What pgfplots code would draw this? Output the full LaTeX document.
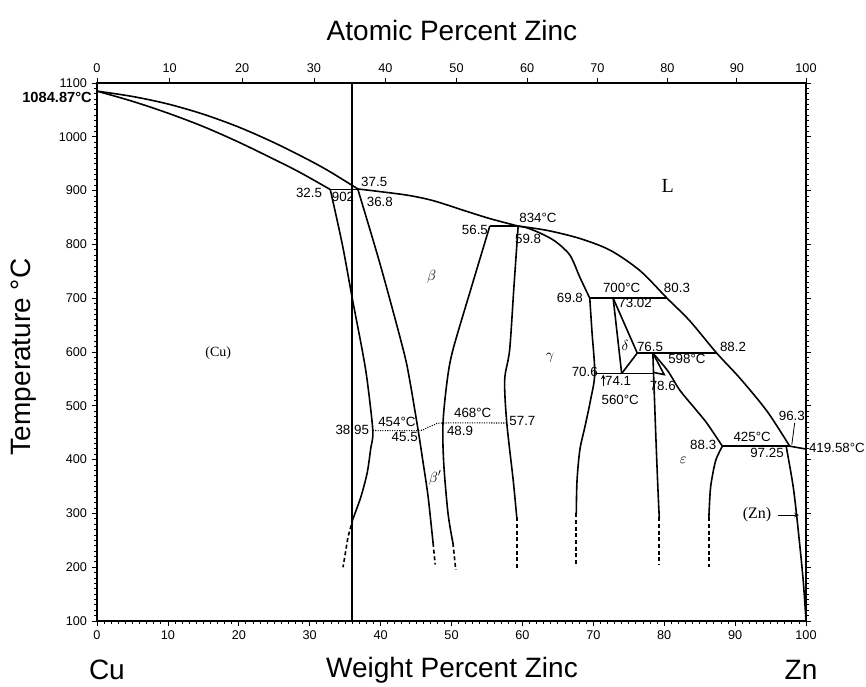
\documentclass[border=0pt]{standalone}
\usepackage{pgfplots}
\pgfplotsset{compat=1.18}
\usepackage{fontspec}
\setmainfont{Liberation Sans}
\newfontfamily\seriff{Liberation Serif}
\begin{document}
\begin{tikzpicture}
\useasboundingbox (-72.75pt,-48.75pt) rectangle (576.75pt,465.75pt);
\pgfplotsset{
  ph/.style={black, line width=1.2pt, no marks},
  phs/.style={black, line width=1.2pt, no marks, smooth},
  phd/.style={black, line width=1.2pt, no marks, dash pattern=on 3pt off 2pt},
}
\tikzset{
  lab/.style={font=\fontsize{10}{11}\selectfont, inner sep=0.5pt},
  big/.style={font=\fontsize{21}{24}\selectfont},
}
\begin{axis}[
  at={(0,0)}, anchor=south west,
  scale only axis, width=531.75pt, height=403.5pt,
  xmin=0, xmax=100, ymin=100, ymax=1100,
  xtick={0,10,...,100}, ytick={100,200,...,1100},
  minor x tick num=9, minor y tick num=9,
  xtick pos=bottom, ytick pos=both, yticklabel pos=left,
  tick align=outside, major tick length=4pt, minor tick length=2pt,
  tick label style={font=\fontsize{9.5}{10}\selectfont},
  /pgf/number format/assume math mode=true,
  /pgf/number format/1000 sep={},
  axis line style={line width=0.8pt},
  every tick/.style={black, line width=0.6pt},
  clip=false,
]
% liquidus
\addplot[phs] coordinates {(0,1084.87) (5,1075) (10,1061) (15,1042) (20,1018) (25,989) (30,956) (33,934) (36.8,903)};
\addplot[phs] coordinates {(36.8,903) (40,898) (44,891) (47.5,881) (52,862) (55.4,848) (59.4,834)};
\addplot[phs] coordinates {(59.4,834) (63.5,826) (68.1,811) (72.4,789) (76.6,751) (80.4,700) (83.6,658) (87.4,598) (90.7,551) (94.5,490) (97.7,425)};
\addplot[ph] coordinates {(97.7,425) (100,419.58)};
% Cu solidus
\addplot[phs] coordinates {(0,1084.87) (5,1066) (10,1044) (15,1019) (20,990) (25,958) (28.6,934) (32.9,902)};
% isotherms
\addplot[ph] coordinates {(32.9,902) (36.8,902)};
\addplot[ph] coordinates {(55.4,834) (59.4,834)};
\addplot[ph] coordinates {(69.5,700) (80.4,700)};
\addplot[ph] coordinates {(76.2,598) (87.4,598)};
\addplot[ph] coordinates {(70.2,560) (78.4,560)};
\addplot[ph] coordinates {(88.2,425) (97.7,425)};
% alpha solvus
\addplot[phs] coordinates {(32.9,902) (34.6,800) (36,700) (37.4,604) (38.1,548) (38.9,454) (38.6,420) (38.1,375) (37.2,330) (36.1,290)};
\addplot[phd] coordinates {(36.1,290) (35.4,256) (34.7,200)};
% beta left
\addplot[phs] coordinates {(36.8,902) (40,760) (43.2,604) (44.1,548) (45.3,454) (46.0,394) (46.7,331) (47.4,245)};
\addplot[phd] coordinates {(47.4,245) (47.7,205)};
% beta right
\addplot[phs] coordinates {(55.4,834) (52.8,720) (50.2,604) (49.4,548) (48.8,468) (48.9,394) (49.5,301) (50.2,245)};
\addplot[phd] coordinates {(50.2,245) (50.6,195)};
% gamma left
\addplot[phs] coordinates {(59.4,834) (58.8,720) (58.2,604) (57.5,548) (57.8,468) (58.7,362) (59.2,293)};
\addplot[phd] coordinates {(59.2,293) (59.2,195)};
% gamma solidus / right
\addplot[phs] coordinates {(59.4,834) (60.6,831) (62.5,821) (64.6,806) (66.7,780) (68.1,739) (69.5,700)};
\addplot[phs] coordinates {(69.5,700) (69.8,640) (70.2,560) (69.6,510) (68.8,460) (68.1,418) (67.7,360) (67.6,300)};
\addplot[phd] coordinates {(67.6,300) (67.6,205)};
% delta
\addplot[ph] coordinates {(72.8,700) (74.0,560)};
\addplot[ph] coordinates {(72.8,700) (76.2,598) (74.0,560)};
% epsilon left
\addplot[phs] coordinates {(78.4,598) (78.5,560) (78.8,450) (79.1,350) (79.3,293)};
\addplot[phd] coordinates {(79.3,293) (79.3,205)};
\addplot[ph] coordinates {(78.4,598) (80.0,558) (78.5,562)};
% epsilon right
\addplot[phs] coordinates {(78.4,598) (80.5,565) (82.2,529) (84.2,497) (86.0,468) (88.2,425)};
\addplot[phs] coordinates {(88.2,425) (87.3,400) (86.8,370) (86.5,343) (86.3,293)};
\addplot[phd] coordinates {(86.3,293) (86.3,200)};
% Zn solvus
\addplot[phs] coordinates {(97.2,425) (98.2,349) (98.9,269) (99.6,176) (100,100)};
% order-disorder
\addplot[black, line width=0.8pt, densely dotted, smooth, no marks] coordinates {(38.9,454) (45.3,454) (46.5,459) (47.6,465) (48.8,468) (57.8,468)};
% composition line
\addplot[black, line width=1.5pt, no marks] coordinates {(36,100) (36,1100)};
% arrows
\addplot[black, line width=0.6pt, no marks, -stealth] coordinates {(71.4,536) (71.4,558)};
\addplot[black, line width=0.6pt, no marks] coordinates {(98.4,468) (98.0,428)};
\addplot[black, line width=0.6pt, no marks, -stealth] coordinates {(96.0,297) (99.0,297)};
% labels
\node[lab] at (axis cs:39.1,916) {37.5};
\node[lab] at (axis cs:29.9,896) {32.5};
\node[lab] at (axis cs:34.7,888) {902};
\node[lab] at (axis cs:39.9,879) {36.8};
\node[lab] at (axis cs:53.3,827) {56.5};
\node[lab] at (axis cs:62.2,849) {834°C};
\node[lab] at (axis cs:60.8,810) {59.8};
\node[lab] at (axis cs:66.7,700) {69.8};
\node[lab] at (axis cs:74.0,719) {700°C};
\node[lab] at (axis cs:81.8,719) {80.3};
\node[lab] at (axis cs:75.9,691) {73.02};
\node[lab] at (axis cs:78.0,609) {76.5};
\node[lab] at (axis cs:89.7,609) {88.2};
\node[lab] at (axis cs:83.2,587) {598°C};
\node[lab] at (axis cs:68.8,563) {70.6};
\node[lab] at (axis cs:73.5,546) {74.1};
\node[lab] at (axis cs:79.8,537) {78.6};
\node[lab] at (axis cs:73.8,511) {560°C};
\node[lab] at (axis cs:36.0,455) {38.95};
\node[lab] at (axis cs:42.3,470) {454°C};
\node[lab] at (axis cs:43.4,442) {45.5};
\node[lab] at (axis cs:53.0,487) {468°C};
\node[lab] at (axis cs:51.2,453) {48.9};
\node[lab] at (axis cs:60.0,472) {57.7};
\node[lab] at (axis cs:85.5,427) {88.3};
\node[lab] at (axis cs:92.4,442) {425°C};
\node[lab] at (axis cs:94.5,413) {97.25};
\node[lab] at (axis cs:98.0,481) {96.3};
\node[font=\fontsize{11}{12}\selectfont] at (axis cs:47.2,739) {$\beta$};
\node[font=\fontsize{11}{12}\selectfont] at (axis cs:74.5,613) {$\delta$};
\node[font=\fontsize{11}{12}\selectfont] at (axis cs:63.9,589) {$\gamma$};
\node[font=\fontsize{11}{12}\selectfont] at (axis cs:47.7,366) {$\beta'$};
\node[font=\fontsize{11}{12}\selectfont] at (axis cs:82.7,399) {$\varepsilon$};
\node[font=\seriff\fontsize{10.5}{12}\selectfont] at (axis cs:17.1,598) {(Cu)};
\node[font=\seriff\fontsize{12}{13}\selectfont] at (axis cs:93.1,297) {(Zn)};
\node[font=\seriff\fontsize{15}{16}\selectfont] at (axis cs:80.5,909) {L};
\node[anchor=east, inner sep=0.5pt, font=\bfseries\fontsize{11}{12}\selectfont] at (axis cs:-0.6,1074) {1084.87°C};
\node[lab, anchor=west] at (axis cs:100.3,421) {419.58°C};
\node[big] at (axis cs:50.07,1198) {Atomic Percent Zinc};
\node[big] at (axis cs:50.07,9) {Weight Percent Zinc};
\node[big] at (axis cs:1.4,9) {Cu};
\node[big] at (axis cs:99.3,9) {Zn};
\node[big, rotate=90] at (axis cs:-10.3,591) {Temperature °C};
\end{axis}
\begin{axis}[
  at={(0,0)}, anchor=south west,
  scale only axis, width=531.75pt, height=403.5pt,
  xmin=0, xmax=100, ymin=100, ymax=1100,
  axis x line*=top, axis y line=none,
  xtick={0,10.26,20.46,30.6,40.68,50.71,60.68,70.59,80.45,90.25,100},
  xticklabels={0,10,20,30,40,50,60,70,80,90,100},
  minor x tick num=9,
  tick align=outside, major tick length=4pt, minor tick length=2pt,
  tick label style={font=\fontsize{9.5}{10}\selectfont},
  /pgf/number format/assume math mode=true,
  axis line style={line width=0.8pt},
  every tick/.style={black, line width=0.6pt},
]
\end{axis}
\end{tikzpicture}
\end{document}
